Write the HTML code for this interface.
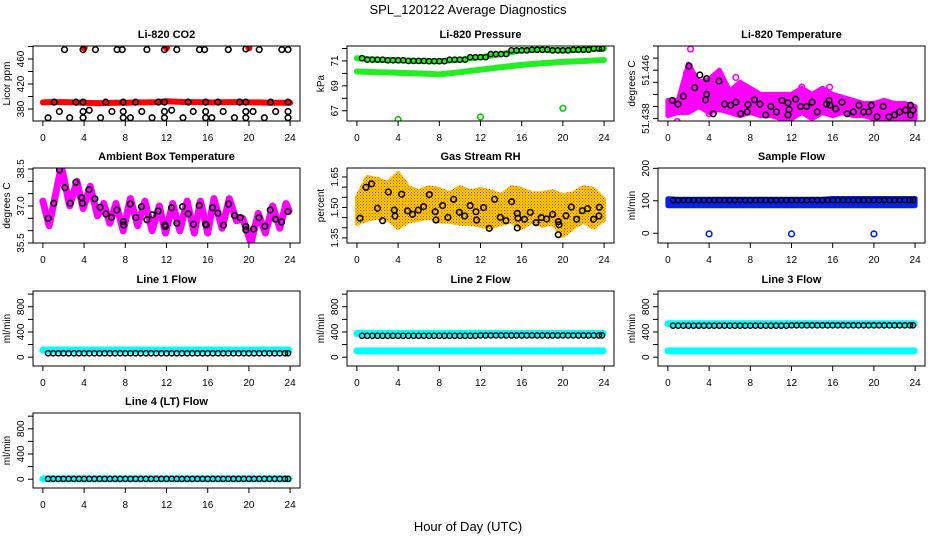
<!DOCTYPE html>
<html><head><meta charset="utf-8"><style>
body{margin:0;background:#fff}
svg{display:block;font-family:"Liberation Sans",sans-serif}
</style></head><body>
<svg id="c" width="936" height="540" viewBox="0 0 936 540">
<defs>
<pattern id="rhpat" width="3" height="3" patternUnits="userSpaceOnUse">
<rect width="3" height="3" fill="#ffdd00"/>
<rect x="0" y="0" width="1" height="1" fill="#ee2200"/>
<rect x="1.5" y="1.5" width="1" height="1" fill="#ee2200"/>
</pattern>
</defs>
<text x="468" y="14" text-anchor="middle" font-size="13">SPL_120122  Average Diagnostics</text>
<text x="468" y="531" text-anchor="middle" font-size="13">Hour of Day (UTC)</text>
</svg>
<script>
// ---------- data ----------
const xTicks=[0,4,8,12,16,20,24];
const hours=[0,1,2,3,4,5,6,7,8,9,10,11,12,13,14,15,16,17,18,19,20,21,22,23,24];
const halfHours=[0.5,1,1.5,2,2.5,3,3.5,4,4.5,5,5.5,6,6.5,7,7.5,8,8.5,9,9.5,10,10.5,11,11.5,12,12.5,13,13.5,14,14.5,15,15.5,16,16.5,17,17.5,18,18.5,19,19.5,20,20.5,21,21.5,22,22.5,23,23.5,23.8];
// CO2
const co2Red=[390.5,391,391,390.5,390,389.5,389.5,390,390,390.5,390.5,391,392.5,391.5,391,391,390.5,390.5,391,391,390.5,390.5,390,390,390];
const co2RedOutX=[4,12,20];
const co2RedOutY=[478,478,478];
const co2BlkX=[2.1,3.9,5.1,7.2,7.7,10.1,11.8,13.0,15.2,15.7,18.0,19.7,21.0,23.2,23.8, 1.1,3.2,3.9,6.1,7.8,9.0,11.2,11.8,14.1,15.8,17.0,19.1,19.7,22.1,23.8, 1.6,3.9,4.5,6.7,7.8,9.6,11.8,12.5,14.6,15.8,17.5,19.7,20.4,22.6,23.8, 0.5,2.6,3.9,5.6,7.8,8.5,10.6,11.8,13.6,15.8,16.4,18.6,19.7,21.5,23.8];
const co2BlkY=[475,475,475,475,475,475,475,475,475,475,475,476,475,475,475, 391,391,391,391,391,391,391,391,391,391,391,391,391,391,391, 376,376,378,376,376,376,376,378,376,376,376,376,376,376,376, 366,366,366,366,366,366,366,366,366,366,366,366,366,366,366];
// Pressure
const presHours=[0,2,4,6,8,10,12,14,16,18,20,22,24];
const presTop=[71.22,71.1,71.05,71.0,70.98,71.1,71.3,71.55,71.85,71.9,71.85,71.9,72.0];
const presLow=[70.15,70.1,70.05,70.0,69.92,70.1,70.3,70.5,70.68,70.82,70.92,71.0,71.08];
const presOutX=[4,12,20];
const presOutY=[66.3,66.5,67.2];
// Li-820 temperature
const tempHi=[51.441,51.441,51.447,51.444,51.4445,51.446,51.4425,51.444,51.443,51.442,51.442,51.442,51.442,51.443,51.442,51.443,51.442,51.4415,51.441,51.4405,51.4405,51.441,51.4405,51.4405,51.440];
const tempLo=[51.4385,51.439,51.439,51.440,51.439,51.4395,51.439,51.4385,51.439,51.4385,51.4385,51.438,51.438,51.439,51.438,51.439,51.4385,51.439,51.4385,51.4385,51.438,51.438,51.438,51.438,51.438];
const tempOutX=[2.2,2.05,6.6,0.9,4.0,1.8,5.2,13.0,15.7];
const tempOutY=[51.4495,51.4455,51.4448,51.4375,51.4388,51.4455,51.4442,51.4432,51.4432];
const tempBlkX=[0.43,0.98,1.5,2.05,2.6,3.1,3.76,3.76,3.66,4.4,4.96,5.5,6.1,6.6,7.06,7.7,7.77,8.4,8.94,9.5,10.0,10.55,11.08,11.66,11.76,11.66,12.4,12.9,13.47,14.0,14.5,15.4,15.64,15.74,16.3,16.9,17.4,18.0,18.55,19.0,19.5,19.75,20.3,20.9,21.46,22.0,22.5,23.07,23.56,23.56,23.8];
const tempBlkY=[51.4410,51.4404,51.4417,51.4467,51.4431,51.4452,51.4446,51.4420,51.4411,51.4388,51.4442,51.4404,51.4402,51.4407,51.4388,51.4391,51.4403,51.4411,51.4404,51.4386,51.4400,51.4391,51.4410,51.4406,51.4395,51.4386,51.4412,51.4400,51.4400,51.4407,51.4391,51.4404,51.4410,51.4402,51.4396,51.4407,51.4388,51.4391,51.4402,51.4391,51.4391,51.4402,51.4383,51.4400,51.4383,51.4386,51.4391,51.4394,51.4402,51.4386,51.4394];
// Ambient box temperature
const ambX=[0,0.6,1.8,2.6,3.3,3.9,4.6,5.3,5.9,6.5,7.1,7.8,8.5,9.2,9.9,10.6,11.3,11.9,12.6,13.3,14.0,14.7,15.3,16.0,16.6,17.4,18.1,18.8,19.4,20.2,20.9,21.6,22.3,23.0,23.6,23.9];
const ambY=[37.2,36.2,38.6,37.0,38.0,36.9,37.8,36.6,37.1,36.3,37.1,36.0,37.3,36.2,37.2,36.0,37.0,35.9,37.1,36.0,37.2,35.9,37.2,35.9,37.3,36.1,37.3,36.4,36.5,35.5,36.7,35.9,37.0,36.1,37.1,36.8];
const ambBlkX=[0.51,1.07,1.61,2.13,2.65,3.2,3.75,3.85,4.47,5.05,5.56,6.11,6.66,7.18,7.8,7.84,8.48,9.03,9.57,10.1,10.64,11.19,11.84,11.9,12.49,13.0,13.55,14.1,14.62,15.17,15.79,15.85,16.47,16.99,17.53,18.02,18.6,19.16,19.7,19.7,20.45,20.97,21.55,22.07,22.58,23.17,23.79];
const ambBlkY=[36.50,37.11,38.46,37.74,37.11,37.96,37.34,37.11,37.66,37.29,36.95,36.68,36.54,36.84,36.37,36.23,37.08,36.53,36.97,36.44,36.64,36.80,36.23,36.17,36.93,36.30,36.97,36.68,36.26,37.02,36.26,36.23,36.93,36.71,36.22,37.08,36.61,36.53,36.17,36.03,36.07,36.53,36.18,36.84,36.46,36.35,36.77];
// Gas stream RH
const rhHi=[1.55,1.65,1.64,1.62,1.67,1.60,1.58,1.60,1.59,1.57,1.60,1.58,1.59,1.58,1.56,1.60,1.59,1.57,1.57,1.58,1.56,1.57,1.60,1.59,1.54];
const rhLo=[1.42,1.44,1.45,1.44,1.40,1.43,1.44,1.45,1.43,1.43,1.42,1.42,1.41,1.40,1.42,1.43,1.40,1.43,1.41,1.42,1.36,1.40,1.43,1.40,1.44];
const rhBlkX=[0.30,0.88,1.43,2.0,2.5,3.05,3.63,3.7,4.34,4.92,5.4,5.96,6.48,7.03,7.6,7.67,8.32,8.84,9.39,9.94,10.46,11.0,11.56,11.62,12.3,12.85,13.37,13.92,14.47,15.02,15.57,15.64,15.57,16.28,16.83,17.39,17.9,18.42,19.0,19.55,19.62,19.55,20.3,20.82,21.33,21.88,22.4,22.98,23.53,23.5];
const rhBlkY=[1.447,1.599,1.616,1.496,1.435,1.576,1.487,1.458,1.565,1.483,1.466,1.487,1.504,1.563,1.479,1.438,1.509,1.451,1.540,1.476,1.458,1.509,1.479,1.438,1.499,1.397,1.540,1.451,1.435,1.528,1.471,1.447,1.399,1.442,1.476,1.425,1.450,1.443,1.466,1.430,1.415,1.366,1.459,1.502,1.442,1.484,1.494,1.442,1.501,1.458];
// Sample flow
const sfHi=[106,105,105,105,105,105,105,105,105,105,105,105,105,105,105,105,107,107,107,107,107,107,107,107,107];
const sfLo=[85,85,85,85,85,85,85,85,85,85,85,85,85,85,85,85,85,85,85,85,85,85,85,85,85];
const sfBlk=102;
const sfOutX=[4,12,20];
const sfOutY=[-2,-2,-2];
// Line flows
const l1Cyan=[112];
const l1Blk=[62];
const l2CyanHi=[375];
const l2CyanLo=[100];
const l2Blk=[340,345];
const l3CyanHi=[530];
const l3CyanLo=[100];
const l3Blk=[500,505];
const l4Cyan=[5];
const l4Blk=[5];

// ---------- layout ----------
const svg=document.getElementById('c');
const NS='http://www.w3.org/2000/svg';
const colL=[33,347,658], rowT=[46,168,291,413], W=267, H=75;
function mk(tag,attrs,parent){const e=document.createElementNS(NS,tag);for(const k in attrs)e.setAttribute(k,attrs[k]);(parent||svg).appendChild(e);return e;}

function panel(name,col,row,title,ylab,ymin,ymax,yt,yl){
  const L=colL[col],T=rowT[row];
  const g=mk('g',{});
  
  
  const pad=W*0.04/1.08;
  const sx=v=>L+pad+(v/24)*(W-2*pad);
  const sy=v=>T+H-(v-ymin)/(ymax-ymin)*H;
  const plot=mk('g',{'clip-path':'url(#clip-'+name+')'},g);
  const cp=mk('clipPath',{id:'clip-'+name},g);
  mk('rect',{x:L,y:T,width:W,height:H},cp);
  const box=mk('rect',{x:L,y:T,width:W,height:H,fill:'none',stroke:'#000','stroke-width':1},g);
  
  
  const t=mk('text',{x:L+W/2,y:T-8,'text-anchor':'middle','font-size':11,'font-weight':'bold'},g);
  t.textContent=title;
  
  
  const xl=mk('text',{x:L-23,y:T+H/2,'text-anchor':'middle','font-size':10,transform:'rotate(-90 '+(L-23)+' '+(T+H/2)+')'},g);
  xl.textContent=ylab;
  
  
  const ax=mk('g',{},g);
  
  
  xTicks.forEach(v=>{const x=sx(v);mk('line',{x1:x,x2:x,y1:T+H,y2:T+H+5,stroke:'#000'},ax);
    const tx=mk('text',{x:x,y:T+H+20,'text-anchor':'middle','font-size':10},ax);tx.textContent=v;});
  const ay=mk('g',{},g);
  
  
  yt.forEach(v=>{const y=sy(v);mk('line',{x1:L,x2:L-5,y1:y,y2:y,stroke:'#000'},ay);});
  yl.forEach(([v,s])=>{const y=sy(v);const tx=mk('text',{x:L-9,y:y,'text-anchor':'middle','font-size':10,transform:'rotate(-90 '+(L-9)+' '+y+')'},ay);tx.textContent=s;});
  return {g:plot,sx,sy};
}
function circ(p,x,y,col,r,sw){return mk('circle',{cx:p.sx(x),cy:p.sy(y),r:r||2.8,fill:'none',stroke:col,'stroke-width':sw||1.6},p.g);}
function poly(p,xs,ys,col,w){const d=xs.map((x,i)=>(i?'L':'M')+p.sx(x).toFixed(1)+' '+p.sy(ys[i]).toFixed(1)).join('');
  return mk('path',{d:d,fill:'none',stroke:col,'stroke-width':w,'stroke-linejoin':'round','stroke-linecap':'round'},p.g);}
function band(p,xs,hi,lo,col,sw){const d=xs.map((x,i)=>(i?'L':'M')+p.sx(x).toFixed(1)+' '+p.sy(hi[i]).toFixed(1)).join('')+
  xs.slice().reverse().map((x,i)=>'L'+p.sx(x).toFixed(1)+' '+p.sy(lo[xs.length-1-i]).toFixed(1)).join('')+'Z';
  return mk('path',{d:d,fill:col,stroke:col,'stroke-width':sw==null?5:sw,'stroke-linejoin':'round'},p.g);}
function rng(a,b,s){const o=[];for(let v=a;v<=b+1e-9;v+=s)o.push(+v.toFixed(4));return o;}

// CO2
let p=panel('co2',0,0,'Li-820 CO2','Licor ppm',360.8,480.8,rng(380,480,20),[[380,'380'],[420,'420'],[460,'460']]);
let s=poly(p,hours,co2Red,'#ff0000',6);
co2RedOutX.forEach((x,i)=>{const c=circ(p,x,co2RedOutY[i],'#ff0000');c.setAttribute('fill','#ff0000');});
co2BlkX.forEach((x,i)=>{const c=circ(p,x,co2BlkY[i],'#000');});

// Pressure
p=panel('pressure',1,0,'Li-820 Pressure','kPa',66.18,72.2,rng(67,72,1),[[67,'67'],[69,'69'],[71,'71']]);
s=poly(p,presHours,presTop,'#22ee22',6);
s=poly(p,presHours,presLow,'#22ee22',6);
presOutX.forEach((x,i)=>circ(p,x,presOutY[i],'#00cc00'));
halfHours.forEach(x=>{const k=Math.min(presHours.length-1,Math.round(x/2));const c=circ(p,x,presTop[k],'#000',2.6,1.4);});

// Li-820 temperature
p=panel('li820-temp',2,0,'Li-820 Temperature','degrees C',51.4376,51.450,rng(51.438,51.450,0.002),[[51.438,'51.438'],[51.446,'51.446']]);
s=band(p,hours,tempHi,tempLo,'#ff00ff');
tempOutX.forEach((x,i)=>circ(p,x,tempOutY[i],'#ff00ff'));
tempBlkX.forEach((x,i)=>{const c=circ(p,x,tempBlkY[i],'#000');});

// Ambient
p=panel('ambient',0,1,'Ambient Box Temperature','degrees C',35.5,38.54,rng(35.5,38.5,0.5),[[35.5,'35.5'],[37.0,'37.0'],[38.5,'38.5']]);
s=poly(p,ambX,ambY,'#ff00ff',7);
ambBlkX.forEach((x,i)=>{const c=circ(p,x,ambBlkY[i],'#000');});

// RH
p=panel('rh',1,1,'Gas Stream RH','percent',1.325,1.694,rng(1.35,1.65,0.05),[[1.35,'1.35'],[1.50,'1.50'],[1.65,'1.65']]);
s=band(p,hours,rhHi,rhLo,'url(#rhpat)',4);
rhBlkX.forEach((x,i)=>{const c=circ(p,x,rhBlkY[i],'#000');});

// Sample flow
p=panel('sample-flow',2,1,'Sample Flow','ml/min',-30,201,[0,100,200],[[0,'0'],[100,'100'],[200,'200']]);
s=band(p,hours,sfHi,sfLo,'#0022ee');
sfOutX.forEach((x,i)=>circ(p,x,sfOutY[i],'#0022ee'));
halfHours.forEach(x=>{const c=circ(p,x,sfBlk,'#000',2.6,1.4);});

// line flows
const fy=rng(0,1000,200), fl=[[0,'0'],[400,'400'],[800,'800']];
function flow(name,col,row,title,cy,blk){
  const q=panel(name,col,row,title,'ml/min',-140,1050,fy,fl);
  cy.forEach(v=>{const sr=poly(q,[0,23.9],[v,v],'#00ffff',7);});
  halfHours.forEach(x=>{const v=blk[x<12?0:blk.length-1];const c=circ(q,x,v,'#000',2.6,1.4);});
}
flow('line1-flow',0,2,'Line 1 Flow',l1Cyan,l1Blk);
flow('line2-flow',1,2,'Line 2 Flow',[l2CyanHi[0],l2CyanLo[0]],l2Blk);
flow('line3-flow',2,2,'Line 3 Flow',[l3CyanHi[0],l3CyanLo[0]],l3Blk);
flow('line4-flow',0,3,'Line 4 (LT) Flow',l4Cyan,l4Blk);
</script>
</body></html>
